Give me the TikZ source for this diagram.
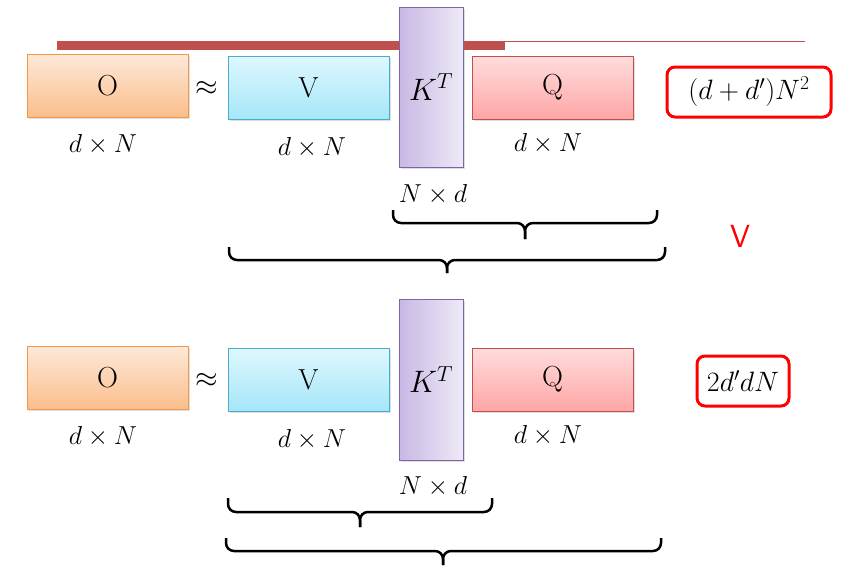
\RequirePackage{fix-cm}
\documentclass[tikz,border=0pt]{standalone}
\usetikzlibrary{shadows}
\definecolor{barred}{RGB}{192,80,77}
\definecolor{otop}{RGB}{253,233,217}
\definecolor{obot}{RGB}{251,190,140}
\definecolor{oline}{RGB}{247,150,70}
\definecolor{vtop}{RGB}{222,248,254}
\definecolor{vbot}{RGB}{166,230,249}
\definecolor{vline}{RGB}{75,172,198}
\definecolor{kleft}{RGB}{200,184,228}
\definecolor{kright}{RGB}{238,234,246}
\definecolor{kline}{RGB}{128,100,162}
\definecolor{qtop}{RGB}{255,220,220}
\definecolor{qbot}{RGB}{255,166,166}

\begin{document}
\begin{tikzpicture}[x=1pt,y=-1pt,
  mat/.style={draw,line width=0.8pt,inner sep=0pt,minimum width=161pt,minimum height=63pt,
    font=\fontsize{29}{30}\selectfont,
    drop shadow={shadow xshift=1.5pt,shadow yshift=-1.5pt,opacity=0.25}},
  omat/.style={draw=oline,top color=otop,bottom color=obot},
  vmat/.style={draw=vline,top color=vtop,bottom color=vbot},
  qmat/.style={draw=barred,top color=qtop,bottom color=qbot},
  kmat/.style={mat,minimum width=64pt,minimum height=160pt,draw=kline,left color=kleft,right color=kright,
    font=\fontsize{31}{32}\selectfont},
  dim/.style={font=\fontsize{26}{28}\selectfont},
  cost/.style={draw=red,line width=3pt,rounded corners=8pt,minimum height=50pt,inner sep=0pt,
    font=\fontsize{28}{30}\selectfont},
  brc/.style={line width=2.5pt,rounded corners=8pt}]
  \useasboundingbox (0,0) rectangle (851,574);

  % top row
  \fill[barred] (57,41) rectangle (505,50);
  \draw[barred,line width=1pt] (505,41.5)--(805,41.5);
  \node[mat,omat] (o1) at (107.5,85.5) {O};
  \node[font=\fontsize{29}{30}\selectfont] (ap1) at (207,88) {$\approx$};
  \node[mat,vmat] (v1) at (308.5,87.5) {V};
  \node[kmat] (k1) at (431,87) {$K^T$};
  \node[mat,qmat] (q1) at (552.5,87.5) {Q};
  \node[cost,minimum width=164pt] (c1) at (749,92) {$(d+d')N^2$};
  \node[dim] (o1d) at (103,145) {$d\times N$};
  \node[dim] (v1d) at (312,148) {$d\times N$};
  \node[dim] (k1d) at (433,195) {$N\times d$};
  \node[dim] (q1d) at (548,144) {$d\times N$};
  % braces
  \coordinate (b1l) at (393,210); \coordinate (b1r) at (657,210);
  \coordinate (b1m) at (525,223); \coordinate (b1t) at (525,239);
  \draw[brc] (b1l) |- (b1m) -- (b1t);
  \draw[brc] (b1r) |- (b1m) -- (b1t);
  \coordinate (b2l) at (229,247); \coordinate (b2r) at (665,247);
  \coordinate (b2m) at (447,260); \coordinate (b2t) at (447,273);
  \draw[brc] (b2l) |- (b2m) -- (b2t);
  \draw[brc] (b2r) |- (b2m) -- (b2t);
  \node[text=red,font=\sffamily\fontsize{32}{32}\selectfont] (gt) at (740,236) {V};

  % bottom row
  \node[mat,omat] (o2) at (107.5,377.5) {O};
  \node[font=\fontsize{29}{30}\selectfont] (ap2) at (207,380) {$\approx$};
  \node[mat,vmat] (v2) at (308.5,379.5) {V};
  \node[kmat,minimum height=161pt] (k2) at (431,379.5) {$K^T$};
  \node[mat,qmat] (q2) at (552.5,379.5) {Q};
  \node[cost,minimum width=92pt] (c2) at (743,381) {$2d'dN$};
  \node[dim] (o2d) at (103,437) {$d\times N$};
  \node[dim] (v2d) at (312,440) {$d\times N$};
  \node[dim] (k2d) at (433,487) {$N\times d$};
  \node[dim] (q2d) at (548,436) {$d\times N$};
  % braces
  \coordinate (b3l) at (228,498); \coordinate (b3r) at (492,498);
  \coordinate (b3m) at (360,512); \coordinate (b3t) at (360,527);
  \draw[brc] (b3l) |- (b3m) -- (b3t);
  \draw[brc] (b3r) |- (b3m) -- (b3t);
  \coordinate (b4l) at (226,538); \coordinate (b4r) at (661,538);
  \coordinate (b4m) at (443,551); \coordinate (b4t) at (443,565);
  \draw[brc] (b4l) |- (b4m) -- (b4t);
  \draw[brc] (b4r) |- (b4m) -- (b4t);
\end{tikzpicture}
\end{document}
